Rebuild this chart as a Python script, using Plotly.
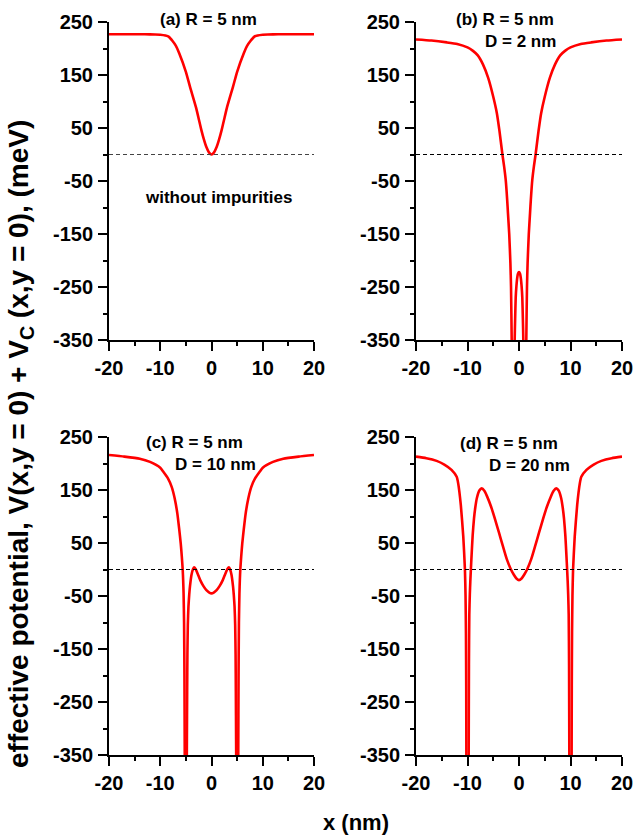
import plotly.graph_objects as go

# ---------------- data ----------------
# (a) R = 5 nm, without impurities
xa = [-20, -16, -13, -11, -10, -9, -8.3, -7, -6.3, -5, -4.2, -3, -2.44, -2, -1.5, -1, -0.5, 0,
      0.5, 1, 1.5, 2, 2.44, 3, 4.2, 5, 6.3, 7, 8.3, 9, 10, 11, 13, 16, 20]
va = [227, 227, 226.8, 226.5, 226, 224.5, 222, 206, 191, 156, 128, 88, 65, 47, 29, 14, 4, 0,
      4, 14, 29, 47, 65, 88, 128, 156, 191, 206, 222, 224.5, 226, 226.5, 226.8, 227, 227]

# (b) R = 5 nm, D = 2 nm  (None marks the break at each impurity)
xb = [-20, -17, -14, -12, -10, -9, -8, -7, -6, -5, -4.3, -3.8, -3.22, -2.9, -2.58, -2.3, -2.14, -1.9, -1.67, -1.55, -1.42, -1.35,
      -1.1,
      -0.9, -0.84, -0.75, -0.64, -0.5, -0.35, -0.2, 0, 0.2, 0.35, 0.5, 0.64, 0.75, 0.84, 0.9,
      1.1,
      1.35, 1.42, 1.55, 1.67, 1.9, 2.14, 2.3, 2.58, 2.9, 3.22, 3.8, 4.3, 5, 6, 7, 8, 9, 10, 12, 14, 17, 20]
vb = [217, 215, 211.5, 208.5, 202, 196, 187, 170, 145, 109, 78, 45, 0, -22, -48, -85, -111, -150, -205, -250, -350, -450,
      None,
      -420, -350, -310, -270, -248, -233, -225, -222, -225, -233, -248, -270, -310, -350, -420,
      None,
      -450, -350, -250, -205, -150, -111, -85, -48, -22, 0, 45, 78, 109, 145, 170, 187, 196, 202, 208.5, 211.5, 215, 217]

# (c) R = 5 nm, D = 10 nm
xc = [-20, -17, -14, -12, -10, -9.4, -8.5, -7.77, -7.2, -6.67, -6.3, -6, -5.8, -5.62, -5.53, -5.45, -5.35, -5.28, -5.22, -5.18,
      -5.0,
      -4.85, -4.8, -4.75, -4.7, -4.62, -4.5, -4.35, -4.2, -3.9, -3.6, -3.4, -3.1, -2.7, -2.2, -1.6, -1, -0.5, 0,
      0.5, 1, 1.6, 2.2, 2.7, 3.1, 3.4, 3.6, 3.9, 4.2, 4.35, 4.5, 4.62, 4.7, 4.75, 4.8, 4.85,
      5.0,
      5.18, 5.22, 5.28, 5.35, 5.45, 5.53, 5.62, 5.8, 6, 6.3, 6.67, 7.2, 7.77, 8.5, 9.4, 10, 12, 14, 17, 20]
vc = [216, 213, 209, 203, 192, 184.5, 172, 156, 135, 106, 76, 49, 25, 0, -20, -45, -100, -200, -350, -450,
      None,
      -420, -320, -230, -160, -105, -70, -48, -32, -10, 1, 4, 1, -8, -20, -31, -39, -43, -45,
      -43, -39, -31, -20, -8, 1, 4, 1, -10, -32, -48, -70, -105, -160, -230, -320, -420,
      None,
      -450, -350, -200, -100, -45, -20, 0, 25, 49, 76, 106, 135, 156, 172, 184.5, 192, 203, 209, 213, 216]

# (d) R = 5 nm, D = 20 nm
xd = [-20, -18, -16, -14.5, -13.1, -12.1, -11.8, -11.3, -10.82, -10.5, -10.38, -10.3, -10.25, -10.22, -10.2,
      -10.0,
      -9.8, -9.77, -9.72, -9.65, -9.55, -9.45, -9.35, -9.2, -9.0, -8.74, -8.5, -8.2, -7.7, -7.24, -6.7, -6.16, -5.4, -4.66, -3.9, -3.1, -2.39, -1.61, -1, -0.5, 0,
      0.5, 1, 1.61, 2.39, 3.1, 3.9, 4.66, 5.4, 6.16, 6.7, 7.24, 7.7, 8.2, 8.5, 8.74, 9.0, 9.2, 9.35, 9.45, 9.55, 9.65, 9.72, 9.77, 9.8,
      10.0,
      10.2, 10.22, 10.25, 10.3, 10.38, 10.5, 10.82, 11.3, 11.8, 12.1, 13.1, 14.5, 16, 18, 20]
vd = [213, 210, 205, 198, 188, 175, 162, 122, 62, 0, -50, -120, -220, -350, -450,
      None,
      -450, -350, -180, -85, -47, -22, -1, 28, 64, 96, 116, 134, 149, 153, 148, 137, 118, 95, 70, 43, 20, 1, -10, -17, -20,
      -17, -10, 1, 20, 43, 70, 95, 118, 137, 148, 153, 149, 134, 116, 96, 64, 28, -1, -22, -47, -85, -180, -350, -450,
      None,
      -450, -350, -220, -120, -50, 0, 62, 122, 162, 175, 188, 198, 205, 210, 213]

# axis ticks
x_range = [-20, 20]
y_range = [-350, 250]
x_ticks = [-20, -10, 0, 10, 20]
x_tick_labels = ["-20", "-10", "0", "10", "20"]
y_ticks = [250, 150, 50, -50, -150, -250, -350]
y_tick_labels = ["250", "150", "50", "-50", "-150", "-250", "-350"]

panels = [
    (xa, va, ["(a) R = 5 nm"], "without impurities"),
    (xb, vb, ["(b) R = 5 nm", "D = 2 nm"], None),
    (xc, vc, ["(c) R = 5 nm", "D = 10 nm"], None),
    (xd, vd, ["(d) R = 5 nm", "D = 20 nm"], None),
]

# ---------------- layout helpers ----------------
W, H = 634, 839
def px(x):
    return x / W
def py(y):
    return 1 - y / H

col_dom = [(109, 314), (416, 622)]
row_dom = [(22, 340), (437, 755)]

FONT = "Liberation Sans, Arial, sans-serif"

fig = go.Figure()
layout = dict(width=W, height=H, autosize=False, margin=dict(l=0, r=0, t=0, b=0, pad=0),
              paper_bgcolor="white", plot_bgcolor="white", showlegend=False,
              font=dict(family=FONT, color="black"))

annotations = []
shapes = []

label_pos = {
    0: [(208, 20)],
    1: [(504.5, 20), (520, 42)],
    2: [(195, 442), (215.5, 464.5)],
    3: [(508.5, 443), (529.5, 465.5)],
}

for i, (xs, vs, labels, extra) in enumerate(panels):
    r, c = divmod(i, 2)
    n = i + 1
    xa_name = "xaxis" if n == 1 else f"xaxis{n}"
    ya_name = "yaxis" if n == 1 else f"yaxis{n}"
    xref = "x" if n == 1 else f"x{n}"
    yref = "y" if n == 1 else f"y{n}"
    x0, x1 = col_dom[c]
    y0, y1 = row_dom[r]
    axis_common = dict(showline=True, linecolor="black", linewidth=2, mirror=False,
                       showgrid=False, zeroline=False, ticks="outside", ticklen=9,
                       tickwidth=2, tickcolor="black", automargin=False,
                       tickfont=dict(family=FONT, size=20, color="black", weight="bold"))
    layout[xa_name] = dict(axis_common, domain=[px(x0), px(x1)], range=x_range,
                           tickmode="array", tickvals=x_ticks, ticktext=x_tick_labels, anchor=yref,
                           minor=dict(ticks="outside", ticklen=4, tickwidth=2, tickcolor="black", dtick=5, tick0=-20))
    layout[ya_name] = dict(axis_common, domain=[py(y1), py(y0)], range=y_range,
                           tickmode="array", tickvals=y_ticks, ticktext=y_tick_labels,
                           anchor=xref, ticklabelstandoff=1,
                           minor=dict(ticks="outside", ticklen=4, tickwidth=2, tickcolor="black", dtick=50, tick0=0))
    fig.add_trace(go.Scatter(x=xs, y=vs, mode="lines", xaxis=xref, yaxis=yref,
                             line=dict(color="#ff0000", width=2.6, shape="spline", smoothing=0.5),
                             connectgaps=False, hoverinfo="skip"))
    shapes.append(dict(type="line", xref=f"{xref} domain", yref=yref, x0=0, x1=1, y0=0, y1=0,
                       line=dict(color="#444444" if n == 1 else "black", width=1, dash="4px,3px")))
    for (lx, ly), txt in zip(label_pos[i], labels):
        annotations.append(dict(text=txt, x=px(lx), y=py(ly), xref="paper", yref="paper",
                                showarrow=False, xanchor="center", yanchor="middle",
                                font=dict(family=FONT, size=17, color="black", weight="bold")))
    if extra:
        annotations.append(dict(text=extra, x=px(218), y=py(197), xref="paper", yref="paper",
                                showarrow=False, xanchor="center", yanchor="middle",
                                font=dict(family=FONT, size=17, color="black", weight="bold")))

annotations.append(dict(text="effective potential, V(x,y = 0) + V<sub>C</sub> (x,y = 0), (meV)",
                        x=px(20), y=py(444), xref="paper", yref="paper", textangle=-90,
                        showarrow=False, xanchor="center", yanchor="middle",
                        font=dict(family=FONT, size=28, color="black", weight="bold")))
annotations.append(dict(text="x (nm)", x=px(356), y=py(822), xref="paper", yref="paper",
                        showarrow=False, xanchor="center", yanchor="middle",
                        font=dict(family=FONT, size=22, color="black", weight="bold")))

layout["annotations"] = annotations
layout["shapes"] = shapes
fig.update_layout(**layout)
fig.write_html("out.html", config={"displayModeBar": False, "staticPlot": True},
               post_script="document.body.style.margin='0';document.body.style.padding='0';"
                           "document.documentElement.style.overflow='hidden';")
